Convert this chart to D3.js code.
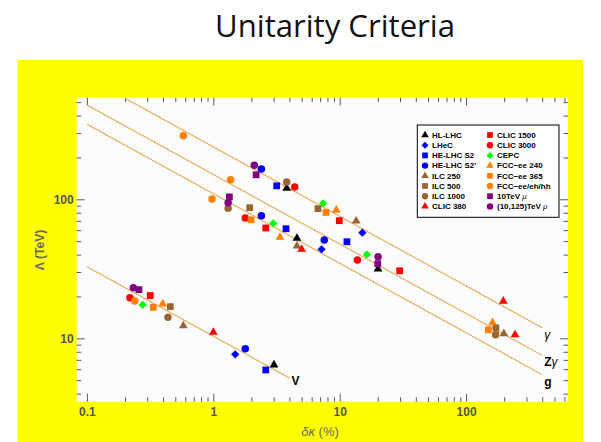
<!DOCTYPE html>
<html>
<head>
<meta charset="utf-8">
<title>unitarity</title>
<script src="https://cdn.jsdelivr.net/npm/d3@7"></script>
<style>
  body { margin: 0; background: #fff; }
  .axis path { display: none; }
  .axis line { stroke: #5a5a5a; stroke-width: 1; }
  .axis text { font-family: "Liberation Sans", Arial, sans-serif; font-size: 12px; font-weight: bold; fill: #555; }
  .legend text { font-family: "Liberation Sans", Arial, sans-serif; font-size: 8px; font-weight: bold; fill: #000; }
</style>
</head>
<body>
<script>
// ===== data =====
var seriesNames = ["HL-LHC", "LHeC", "HE-LHC S2", "HE-LHC S2'", "ILC 250", "ILC 500", "ILC 1000", "CLIC 380",
                   "CLIC 1500", "CLIC 3000", "CEPC", "FCC\u2212ee 240", "FCC\u2212ee 365", "FCC\u2212ee/eh/hh", "10TeV", "(10,125)TeV"];
var muSuffix = [false, false, false, false, false, false, false, false, false, false, false, false, false, false, true, true];

// delta kappa (%) per series
var deltaKappa = [
  [3.81, 4.59, 20.1, 3.02],
  [15.1, 7.18, 1.49],
  [3.17, 3.76, 11.4, 2.60],
  [2.40, 2.40, 7.55, 1.79],
  [13.5, 4.59, 199, 0.579],
  [1.94, 6.73, 172, 0.457],
  [3.81, 1.31, 171, 0.438],
  [5.00, 197, 244, 1.00],
  [2.60, 9.93, 29.8, 0.317],
  [4.41, 1.79, 13.8, 0.219],
  [2.98, 7.38, 16.4, 0.276],
  [3.37, 9.40, 162, 0.398],
  [1.99, 7.79, 150, 0.335],
  [0.579, 1.37, 0.977, 0.239],
  [2.18, 1.34, 20.0, 0.258],
  [2.11, 1.31, 20.1, 0.233]
];
// Lambda (TeV) per series
var lambdaTeV = [
  [120, 52.4, 31.5, 6.43],
  [57.5, 43.7, 7.67],
  [125, 61.4, 49.5, 5.92],
  [165, 76.2, 50.9, 8.42],
  [69.8, 46.1, 10.8, 12.3],
  [87.0, 85.6, 11.9, 16.9],
  [133, 86.1, 10.6, 14.2],
  [43.7, 18.5, 10.6, 11.05],
  [62.2, 70.2, 30.6, 20.3],
  [122.6, 73.4, 36.6, 19.6],
  [67.2, 93.6, 40.1, 17.4],
  [53.3, 83.5, 12.95, 17.7],
  [71.3, 80.4, 11.5, 16.7],
  [287, 138, 100.5, 18.55],
  [150, 104, 34.4, 22.4],
  [176, 94.5, 38.6, 23.1]
];

// unitarity bound lines, end points [delta kappa, Lambda]
var boundNames = ["\u03b3", "Z\u03b3", "g", "V"];
var boundStart = [[0.2, 533], [0.1, 476.5], [0.1, 346.5], [0.1, 32.7]];
var boundEnd   = [[400, 11.92], [400, 7.54], [400, 5.48], [4, 5.18]];

var xMajorTicks = [0.1, 1, 10, 100];
var yMajorTicks = [10, 100];

// ===== styles =====
var markShape = ["triangle", "diamond", "square", "circle", "triangle", "square", "circle", "triangle",
                 "square", "circle", "diamond", "triangle", "square", "circle", "square", "circle"];
var markColor = ["#000000", "#0000ff", "#0000ff", "#0000ff", "#996633", "#996633", "#996633", "#ff0000",
                 "#ff0000", "#ff0000", "#00ff00", "#ff8000", "#ff8000", "#ff8000", "#800080", "#800080"];

var svgWidth = 601, svgHeight = 442;
var box = { left: 76.7, right: 568, top: 97.7, bottom: 401.7 };

var svg = d3.select("body").append("svg").attr("width", svgWidth).attr("height", svgHeight);

// yellow panel
svg.append("rect").attr("x", 18).attr("y", 60).attr("width", 565).attr("height", 382).attr("fill", "#ffff00");

// title
svg.append("text").attr("x", 215).attr("y", 37)
    .attr("font-family", "'Open Sans', sans-serif").attr("font-size", 31).attr("fill", "#111")
    .attr("textLength", 240).attr("lengthAdjust", "spacingAndGlyphs")
    .text("Unitarity Criteria");

// scales
var xScale = d3.scaleLog().domain([0.083, 640]).range([box.left, box.right]);
var yScale = d3.scaleLog().domain([3.5, 538]).range([box.bottom, box.top]);

svg.append("rect").attr("x", box.left).attr("y", box.top)
    .attr("width", box.right - box.left).attr("height", box.bottom - box.top).attr("fill", "#fcfcfc");

// minor ticks
var xMinorTicks = [], yMinorTicks = [];
[0.1, 1, 10, 100].forEach(function (d) { for (var k = 2; k <= 9; k++) if (d * k < 640) xMinorTicks.push(d * k); });
[1, 10, 100].forEach(function (d) { for (var k = 2; k <= 9; k++) if (d * k > 3.5 && d * k < 538) yMinorTicks.push(d * k); });

function addAxis(axisFn, scale, vals, size, labels, tx, ty, pad) {
  var a = axisFn(scale).tickValues(vals).tickSize(-size).tickPadding(pad || 3);
  if (!labels) a.tickFormat("");
  else a.tickFormat(function (d) { return d < 1 ? String(d) : d3.format("d")(d); });
  svg.append("g").attr("class", "axis").attr("transform", "translate(" + tx + "," + ty + ")").call(a);
}
addAxis(d3.axisBottom, xScale, xMajorTicks, 8, true, 0, box.bottom, 5.5);
addAxis(d3.axisBottom, xScale, xMinorTicks, 4.5, false, 0, box.bottom);
addAxis(d3.axisTop, xScale, xMajorTicks, 8, false, 0, box.top);
addAxis(d3.axisTop, xScale, xMinorTicks, 4.5, false, 0, box.top);
addAxis(d3.axisLeft, yScale, yMajorTicks, 8, true, box.left, 0, 3);
addAxis(d3.axisLeft, yScale, yMinorTicks, 4.5, false, box.left, 0);
addAxis(d3.axisRight, yScale, yMajorTicks, 8, false, box.right, 0);
addAxis(d3.axisRight, yScale, yMinorTicks, 4.5, false, box.right, 0);

// axis titles
svg.append("text").attr("transform", "translate(44,250) rotate(-90)").attr("text-anchor", "middle")
    .attr("font-family", "'Liberation Sans', Arial, sans-serif").attr("font-size", 12).attr("font-weight", "bold")
    .attr("fill", "#666").text("\u039b (TeV)");
var xt = svg.append("text").attr("x", 320).attr("y", 436).attr("text-anchor", "middle")
    .attr("font-family", "'Liberation Sans', Arial, sans-serif").attr("font-size", 13).attr("fill", "#666");
xt.append("tspan").attr("font-style", "italic").text("\u03b4\u03ba");
xt.append("tspan").text(" (%)");

// bound lines
svg.append("clipPath").attr("id", "clip").append("rect")
    .attr("x", box.left).attr("y", box.top).attr("width", box.right - box.left).attr("height", box.bottom - box.top);
var lineG = svg.append("g").attr("clip-path", "url(#clip)");
boundNames.forEach(function (name, i) {
  lineG.append("line")
      .attr("x1", xScale(boundStart[i][0])).attr("y1", yScale(boundStart[i][1]))
      .attr("x2", xScale(boundEnd[i][0])).attr("y2", yScale(boundEnd[i][1]))
      .attr("stroke", "#e6a94e").attr("stroke-width", 1.1);
});

// line labels
boundNames.forEach(function (name, i) {
  var lx = xScale(boundEnd[i][0]) + 2, ly = yScale(boundEnd[i][1]) + (i == 3 ? 7 : 11);
  var t = svg.append("text").attr("x", lx).attr("y", ly)
      .attr("font-family", "'Liberation Sans', Arial, sans-serif").attr("font-size", 12).attr("fill", "#000");
  if (name == "\u03b3") {
    t.append("tspan").attr("font-style", "italic").text(name);
  } else if (name == "Z\u03b3") {
    t.append("tspan").attr("font-weight", "bold").text("Z");
    t.append("tspan").attr("font-style", "italic").text("\u03b3");
  } else {
    t.attr("font-weight", "bold").text(name);
  }
});

// markers
function symbolPath(shape, scale) {
  var type = { circle: d3.symbolCircle, square: d3.symbolSquare, triangle: d3.symbolTriangle, diamond: d3.symbolSquare }[shape];
  var size = { circle: 44, square: 46, triangle: 34, diamond: 34 }[shape] * scale * scale;
  return d3.symbol().type(type).size(size)();
}

var pointsG = svg.append("g");
seriesNames.forEach(function (name, i) {
  pointsG.selectAll(".s" + i)
      .data(deltaKappa[i].map(function (d, j) { return [d, lambdaTeV[i][j]]; }))
      .enter().append("path")
      .attr("d", symbolPath(markShape[i], 1))
      .attr("transform", function (d) {
        return "translate(" + xScale(d[0]) + "," + yScale(d[1]) + ")" + (markShape[i] == "diamond" ? " rotate(45)" : "");
      })
      .attr("fill", markColor[i]);
});

// legend
var legend = svg.append("g").attr("class", "legend");
legend.append("rect").attr("x", 417.3).attr("y", 125).attr("width", 141.7).attr("height", 92.3)
    .attr("fill", "#fff").attr("stroke", "#000").attr("stroke-width", 1);
seriesNames.forEach(function (name, i) {
  var col = Math.floor(i / 8), row = i % 8;
  var mx = col == 0 ? 425 : 490, my = 135 + row * 10.2;
  legend.append("path").attr("d", symbolPath(markShape[i], 0.85))
      .attr("transform", "translate(" + mx + "," + my + ")" + (markShape[i] == "diamond" ? " rotate(45)" : ""))
      .attr("fill", markColor[i]);
  var t = legend.append("text").attr("x", mx + 7).attr("y", my).attr("dy", "0.35em").text(name);
  if (muSuffix[i]) t.append("tspan").attr("font-style", "italic").attr("font-weight", "normal").text(" \u03bc");
});
</script>
</body>
</html>
